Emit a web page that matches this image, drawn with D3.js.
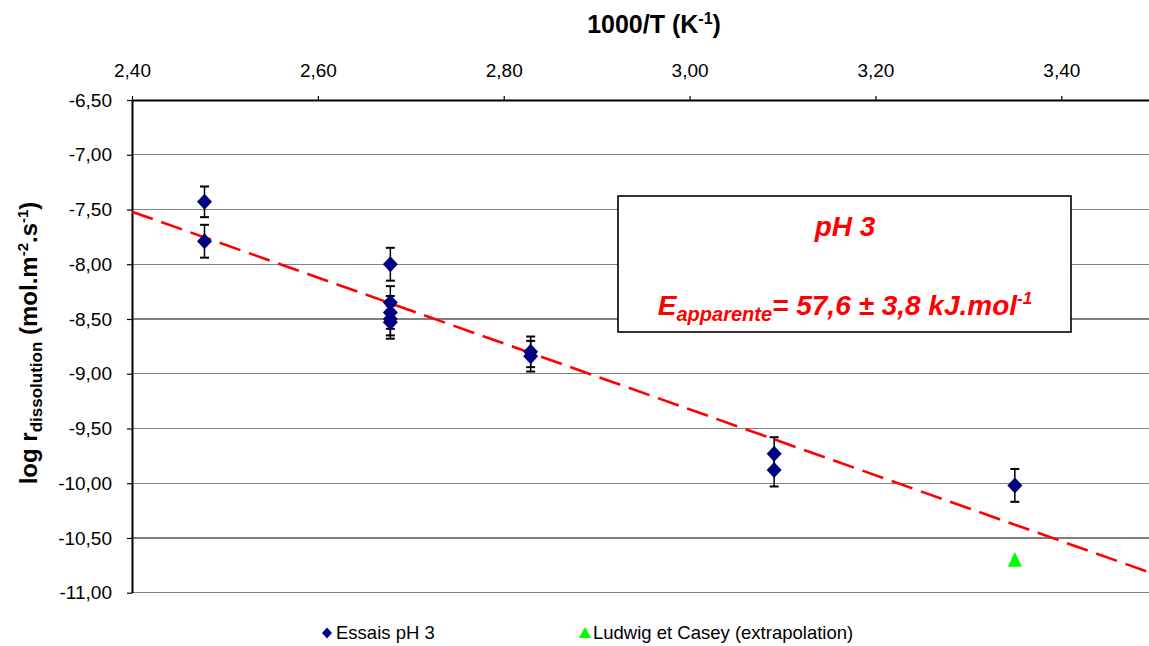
<!DOCTYPE html>
<html>
<head>
<meta charset="utf-8">
<script src="https://cdn.jsdelivr.net/npm/d3@7/dist/d3.min.js"></script>
<style>
    body { margin: 0; background: #fff; }
    svg { font-family: "Liberation Sans", Arial, sans-serif; }
    .tick text { font-size: 19px; fill: #000; }
    .legend text { font-size: 18.5px; }
</style>
</head>
<body>
<script>
// essais pH 3 : 1000/T, log r, error
var essaisX = [2.478, 2.478, 2.678, 2.678, 2.678, 2.678, 2.678, 2.829, 2.829, 3.091, 3.091, 3.350];
var essaisY = [-7.43, -7.79, -8.00, -8.35, -8.44, -8.50, -8.53, -8.80, -8.84, -9.73, -9.88, -10.02];
var essaisErr = [0.14, 0.15, 0.15, 0.15, 0.15, 0.15, 0.15, 0.14, 0.14, 0.15, 0.15, 0.15];

// Ludwig et Casey (extrapolation)
var ludwigX = [3.350];
var ludwigY = [-10.70];

// linear fit (dashed line)
var trendX = [2.40, 3.50];
var trendY = [-7.52, -10.83];

var xTicks = [2.40, 2.60, 2.80, 3.00, 3.20, 3.40];
var yTicks = [-6.5, -7, -7.5, -8, -8.5, -9, -9.5, -10, -10.5, -11];

var width = 1149, height = 646;
var plotLeft = 132, plotTop = 100, plotBottom = 592.7;

// french decimal comma, plain hyphen for minus
var fmt = function(d) { return d.toFixed(2).replace(".", ","); };

var x = d3.scaleLinear().domain([2.4, 3.5]).range([plotLeft, plotLeft + 1.1 * 929.3]);
var y = d3.scaleLinear().domain([-6.5, -11]).range([plotTop, plotBottom]);

var svg = d3.select("body").append("svg")
    .attr("width", width)
    .attr("height", height);

// horizontal grid
svg.append("g")
    .selectAll("line")
    .data(yTicks.slice(1))
    .enter().append("line")
    .attr("x1", plotLeft).attr("x2", x(3.5))
    .attr("y1", function(d) { return y(d); })
    .attr("y2", function(d) { return y(d); })
    .attr("stroke", "#808080")
    .attr("stroke-width", 1.3)
    .attr("shape-rendering", "crispEdges");

// axes
var xAxis = d3.axisTop(x).tickValues(xTicks).tickFormat(fmt).tickSizeInner(4).tickSizeOuter(0).tickPadding(19);
var yAxis = d3.axisLeft(y).tickValues(yTicks).tickFormat(fmt).tickSizeInner(5).tickSizeOuter(0).tickPadding(15);

var gx = svg.append("g").attr("transform", "translate(0," + plotTop + ")").call(xAxis);
var gy = svg.append("g").attr("transform", "translate(" + plotLeft + ",0)").call(yAxis);
[gx, gy].forEach(function(g) {
    g.attr("font-family", null).attr("font-size", null);
    g.select(".domain").attr("stroke", "#000").attr("stroke-width", 2);
    g.selectAll(".tick line").attr("stroke", "#000").attr("stroke-width", 1.2);
});

// axis titles
var xt = svg.append("text")
    .attr("x", 654).attr("y", 33)
    .attr("text-anchor", "middle")
    .style("font-size", "25px").style("font-weight", "bold");
xt.append("tspan").text("1000/T (K");
xt.append("tspan").attr("dy", -9).style("font-size", "16px").text("-1");
xt.append("tspan").attr("dy", 9).text(")");

var yt = svg.append("text")
    .attr("transform", "translate(37,343) rotate(-90)")
    .attr("text-anchor", "middle")
    .style("font-size", "24px").style("font-weight", "bold");
yt.append("tspan").text("log r");
yt.append("tspan").attr("dy", 5).style("font-size", "17px").text("dissolution");
yt.append("tspan").attr("dy", -5).text(" (mol.m");
yt.append("tspan").attr("dy", -9).style("font-size", "15px").text("-2");
yt.append("tspan").attr("dy", 9).text(".s");
yt.append("tspan").attr("dy", -9).style("font-size", "15px").text("-1");
yt.append("tspan").attr("dy", 9).text(")");

// trend line
svg.append("line")
    .attr("x1", x(trendX[0])).attr("y1", y(trendY[0]))
    .attr("x2", x(trendX[1])).attr("y2", y(trendY[1]))
    .attr("stroke", "#ff0000")
    .attr("stroke-width", 2.6)
    .attr("stroke-dasharray", "22,9");

// error bars
var essais = essaisX.map(function(d, i) { return {x: d, y: essaisY[i], e: essaisErr[i]}; });
var eb = svg.append("g").attr("stroke", "#000").attr("stroke-width", 1.5);
essais.forEach(function(d) {
    var cx = x(d.x);
    eb.append("line").attr("x1", cx).attr("x2", cx).attr("y1", y(d.y + d.e)).attr("y2", y(d.y - d.e));
    eb.append("line").attr("x1", cx - 4.5).attr("x2", cx + 4.5).attr("y1", y(d.y + d.e)).attr("y2", y(d.y + d.e)).attr("stroke-width", 2);
    eb.append("line").attr("x1", cx - 4.5).attr("x2", cx + 4.5).attr("y1", y(d.y - d.e)).attr("y2", y(d.y - d.e)).attr("stroke-width", 2);
});

var diamond = "M0,-8L7.5,0L0,8L-7.5,0Z";
svg.append("g").selectAll("path")
    .data(essais)
    .enter().append("path")
    .attr("d", diamond)
    .attr("transform", function(d) { return "translate(" + x(d.x) + "," + y(d.y) + ")"; })
    .attr("fill", "#000080");

var tri = "M0,-8L7,7L-7,7Z";
svg.append("g").selectAll("path")
    .data(ludwigX)
    .enter().append("path")
    .attr("d", tri)
    .attr("transform", function(d, i) { return "translate(" + x(d) + "," + y(ludwigY[i]) + ")"; })
    .attr("fill", "#00ff00");

// annotation box
svg.append("rect")
    .attr("x", 618).attr("y", 196)
    .attr("width", 453).attr("height", 136)
    .attr("fill", "#fff")
    .attr("stroke", "#000").attr("stroke-width", 1.6);

svg.append("text")
    .attr("x", 845).attr("y", 236)
    .attr("text-anchor", "middle")
    .attr("fill", "#ff0000")
    .style("font-size", "28px").style("font-weight", "bold").style("font-style", "italic")
    .text("pH 3");

var ea = svg.append("text")
    .attr("x", 845).attr("y", 315)
    .attr("text-anchor", "middle")
    .attr("fill", "#ff0000")
    .style("font-size", "28px").style("font-weight", "bold").style("font-style", "italic");
ea.append("tspan").text("E");
ea.append("tspan").attr("dy", 6).style("font-size", "20px").text("apparente");
ea.append("tspan").attr("dy", -6).text("= 57,6 \u00b1 3,8 kJ.mol");
ea.append("tspan").attr("dy", -11).style("font-size", "17px").text("-1");

// legend
var lg = svg.append("g").attr("class", "legend");
lg.append("path").attr("d", "M0,-5.5L5,0L0,5.5L-5,0Z").attr("fill", "#000080")
    .attr("transform", "translate(327,633)");
lg.append("text").attr("x", 336).attr("y", 639).text("Essais pH 3");
lg.append("path").attr("d", "M0,-6L6,5L-6,5Z").attr("fill", "#00ff00")
    .attr("transform", "translate(585,633)");
lg.append("text").attr("x", 593).attr("y", 639).text("Ludwig et Casey (extrapolation)");
</script>
</body>
</html>
